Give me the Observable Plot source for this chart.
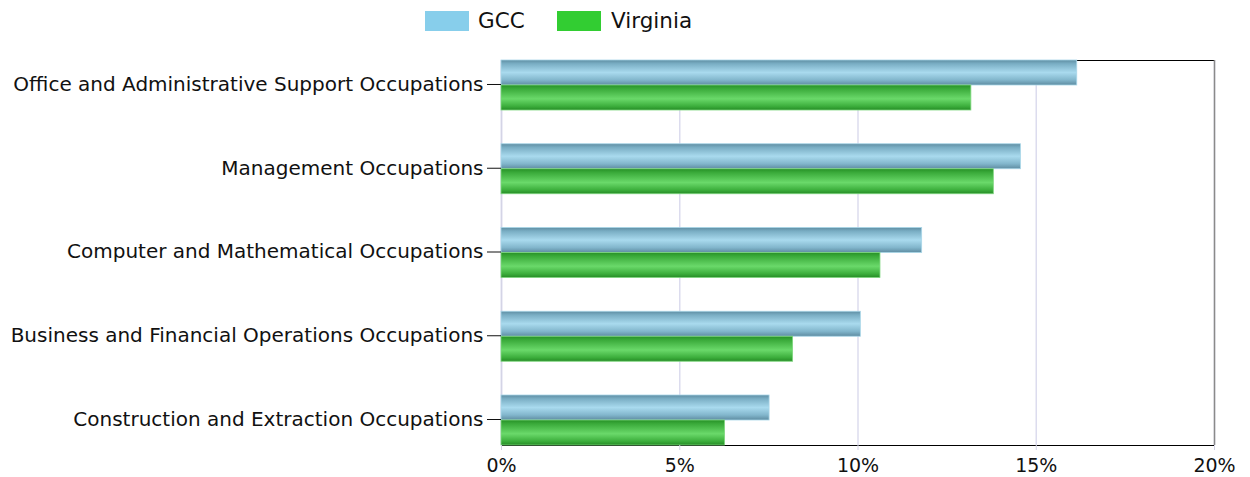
<!DOCTYPE html>
<html>
<head>
<meta charset="utf-8">
<script src="https://cdn.jsdelivr.net/npm/d3@7"></script>
<script src="https://cdn.jsdelivr.net/npm/@observablehq/plot@0.6"></script>
<style>
  body { margin: 0; background: #fff; font-family: "DejaVu Sans", Verdana, sans-serif; }
  #legend { position: relative; height: 42px; width: 1250px; font-size: 21.5px; color: #111; }
  #legend .sw { position: absolute; top: 11px; width: 44px; height: 20px; }
  #legend .lb { position: absolute; top: 8px; line-height: 26px; }
</style>
</head>
<body>
<div id="legend"></div>
<div id="chart"></div>
<script>
const categories = [
  "Office and Administrative Support Occupations",
  "Management Occupations",
  "Computer and Mathematical Occupations",
  "Business and Financial Operations Occupations",
  "Construction and Extraction Occupations"
];
const seriesNames = ["GCC", "Virginia"];
const gccValues = [16.15, 14.57, 11.8, 10.08, 7.52];
const virginiaValues = [13.18, 13.81, 10.63, 8.18, 6.27];
const xTicks = [0, 5, 10, 15, 20];
const seriesColors = ["#87CEEB", "#32CD32"];

const gccData = categories.map((c, i) => ({category: c, series: "GCC", value: gccValues[i]}));
const vaData = categories.map((c, i) => ({category: c, series: "Virginia", value: virginiaValues[i]}));

// Legend
const legend = document.getElementById("legend");
const legendX = [[425, 478], [557, 611]];
seriesNames.forEach((s, i) => {
  const sw = document.createElement("div");
  sw.className = "sw"; sw.style.left = legendX[i][0] + "px"; sw.style.background = seriesColors[i];
  const lb = document.createElement("div");
  lb.className = "lb"; lb.style.left = legendX[i][1] + "px"; lb.textContent = s;
  legend.appendChild(sw); legend.appendChild(lb);
});

const bw = 50; // bandwidth of category band in px (pair of bars)
const chart = Plot.plot({
  width: 1250,
  height: 435,
  marginLeft: 501,
  marginRight: 36,
  marginTop: 18,
  marginBottom: 32,
  style: {fontFamily: "DejaVu Sans, Verdana, sans-serif", fontSize: "19px", color: "#111", background: "white"},
  x: {domain: [0, 20], ticks: xTicks, tickFormat: d => d + "%"},
  y: {domain: categories, paddingInner: 0.403, paddingOuter: 0, round: false},
  marks: [
    Plot.ruleX(xTicks, {stroke: "#dcdcee", strokeWidth: 1.5}),
    Plot.frame({stroke: "#000", strokeWidth: 1}),
    Plot.ruleX([0], {stroke: "#d4d4e6", strokeWidth: 1.5}),
    Plot.ruleX([20], {stroke: "#8a8a8a", strokeWidth: 1.5}),
    Plot.barX(gccData, {x: "value", y: "category", fill: "url(#gradGCC)", insetBottom: bw / 2, stroke: "#a9d6e8", strokeWidth: 0.8}),
    Plot.barX(vaData, {x: "value", y: "category", fill: "url(#gradVA)", insetTop: bw / 2, stroke: "#7ed67e", strokeWidth: 0.8}),
    Plot.axisX({ticks: xTicks, tickFormat: d => d + "%", tickSize: 5, tickPadding: 8, stroke: "#d4d4e6", fill: "#111", fontSize: "19px", label: null}),
    Plot.axisY({tickSize: 14, tickPadding: 4, stroke: "#111", fill: "#111", fontSize: "20px", dy: -1, label: null})
  ]
});

// gradient definitions
const ns = "http://www.w3.org/2000/svg";
const defs = document.createElementNS(ns, "defs");
function grad(id, stops) {
  const g = document.createElementNS(ns, "linearGradient");
  g.setAttribute("id", id);
  g.setAttribute("x1", "0"); g.setAttribute("y1", "0");
  g.setAttribute("x2", "0"); g.setAttribute("y2", "1");
  stops.forEach(([o, c]) => {
    const s = document.createElementNS(ns, "stop");
    s.setAttribute("offset", o); s.setAttribute("stop-color", c);
    g.appendChild(s);
  });
  defs.appendChild(g);
}
grad("gradGCC", [[0, "#5f8ea3"], [0.15, "#7aaec4"], [0.5, "#a9daee"], [0.8, "#82b6cc"], [1, "#5e8ca1"]]);
grad("gradVA", [[0, "#279127"], [0.15, "#3aaa3a"], [0.55, "#6ad96a"], [0.85, "#3cae3c"], [1, "#268c26"]]);
chart.insertBefore(defs, chart.firstChild);

document.getElementById("chart").appendChild(chart);
</script>
</body>
</html>
